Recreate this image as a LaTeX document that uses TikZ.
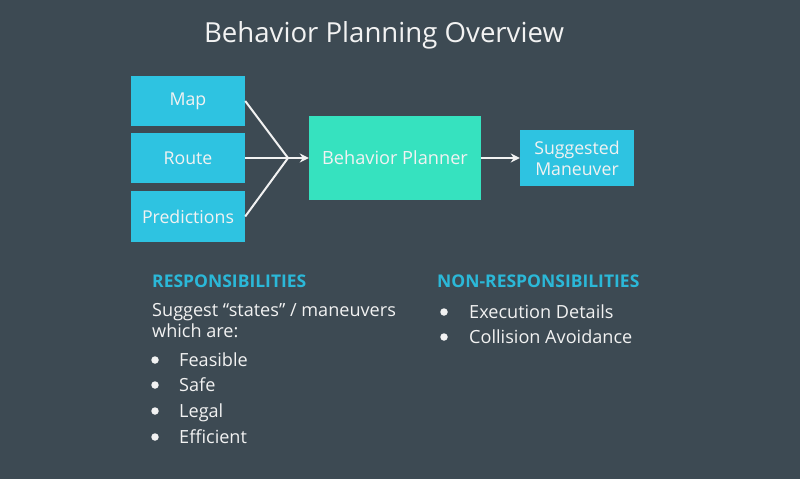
\documentclass[tikz,border=0pt]{standalone}
\usepackage{fontspec}
\setmainfont{Open Sans}
\usetikzlibrary{arrows.meta}

\definecolor{slate}{HTML}{3D4A53}
\definecolor{boxcyan}{HTML}{2EC3E1}
\definecolor{boxgreen}{HTML}{36E2BF}
\definecolor{headcyan}{HTML}{2BB8D8}
\definecolor{softwhite}{HTML}{F2F2F2}

\begin{document}
\begin{tikzpicture}[x=1pt, y=-1pt,
    inbox/.style={fill=boxcyan, text=softwhite, minimum width=114pt, minimum height=50pt, inner sep=0pt, font=\fontsize{17.7}{20}\selectfont},
    planbox/.style={fill=boxgreen, text=softwhite, minimum width=172pt, minimum height=84pt, inner sep=0pt, font=\fontsize{18.2}{20}\selectfont},
    outbox/.style={fill=boxcyan, text=softwhite, minimum width=114pt, minimum height=56pt, inner sep=0pt, align=center, font=\fontsize{17.7}{21}\selectfont},
    flow/.style={draw=softwhite, line width=2pt},
    heading/.style={anchor=base west, inner sep=0pt, text=headcyan, font=\fontsize{17.5}{20}\selectfont\bfseries},
    body/.style={anchor=base west, inner sep=0pt, text=softwhite, font=\fontsize{18.1}{21}\selectfont},
    bullet/.style={fill=softwhite, circle, inner sep=0pt, minimum size=7.5pt}]
\fill[slate] (0, 0) rectangle (800, 479);
\useasboundingbox (0, 0) rectangle (800, 479);
\node (Title) [anchor=base, inner sep=0pt, text=softwhite, font=\fontsize{27.6}{30}\selectfont] at (384, 42) {Behavior Planning Overview};
% input boxes
\node (Map) [inbox] at (188, 101) {Map};
\node (Route) [inbox] at (188, 158) {Route};
\node (Predictions) [inbox, minimum height=51pt] at (188, 216.5) {Predictions};
\node (Planner) [planbox] at (395, 158) {Behavior Planner};
\node (Maneuver) [outbox] at (577, 158) {Suggested\\Maneuver};
\coordinate (Merge) at (288, 158);
    \draw[flow] (Map.east) -- (Merge);
    \draw[flow] (Route.east) -- (Merge);
    \draw[flow] (Predictions.east) -- (Merge);
    \draw[flow, -{Stealth[length=9pt, width=9pt]}] (Merge) -- (Planner.west);
    \draw[flow, -{Stealth[length=9pt, width=9pt]}] (Planner.east) -- (Maneuver.west);
% responsibilities
\node (Resp) [heading] at (152, 287) {RESPONSIBILITIES};
\node (Suggest) [body] at (152, 316) {Suggest “states” / maneuvers};
\node (Which) [body] at (152, 337) {which are:};
\foreach \name/\label/\y in {Feasible/Feasible/366, Safe/Safe/391, Legal/Legal/417, Efficient/Efficient/443} {
    \node (\name Dot) [bullet] at (155, \y-6) {};
    \node (\name) [body] at (179, \y) {\label};
}
% non-responsibilities
\node (NonResp) [heading] at (437, 287) {NON-RESPONSIBILITIES};
\foreach \name/\label/\y in {Execution/Execution Details/318, Collision/Collision Avoidance/343} {
    \node (\name Dot) [bullet] at (444, \y-6) {};
    \node (\name) [body] at (469, \y) {\label};
}
\end{tikzpicture}
\end{document}
